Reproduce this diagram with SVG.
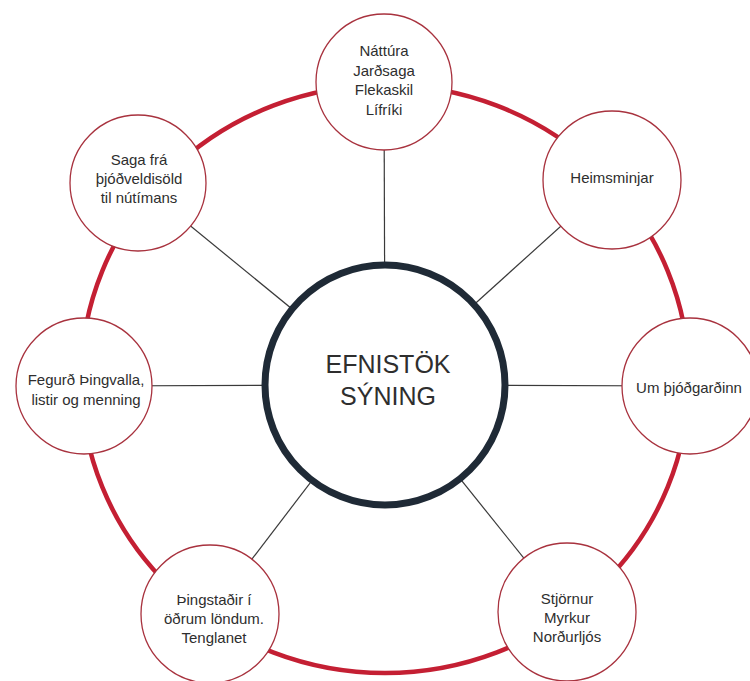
<svg xmlns="http://www.w3.org/2000/svg" width="750" height="681" viewBox="0 0 750 681">
<style>
.ring{fill:none;stroke:#c41f33;stroke-width:4.5}
.spoke{stroke:#3a3a3a;stroke-width:1.2}
.node{fill:#fff;stroke:#a8323e;stroke-width:1.3}
.hub{fill:#fff;stroke:#1f2a36;stroke-width:7}
.t{font-family:"Liberation Sans",Arial,sans-serif;font-size:15px;fill:#2e2e2e;text-anchor:middle}
.h{font-family:"Liberation Sans",Arial,sans-serif;font-size:25px;fill:#2e2e2e;text-anchor:middle}
</style>
<rect width="750" height="681" fill="#fff"/>
<ellipse class="ring" cx="385" cy="379" rx="304" ry="294"/>
<g id="connectors">
<line class="spoke" x1="385" y1="385" x2="384" y2="82"/>
<line class="spoke" x1="385" y1="385" x2="612" y2="180"/>
<line class="spoke" x1="385" y1="385" x2="690" y2="386"/>
<line class="spoke" x1="385" y1="385" x2="567" y2="612"/>
<line class="spoke" x1="385" y1="385" x2="210" y2="614"/>
<line class="spoke" x1="385" y1="385" x2="84" y2="386"/>
<line class="spoke" x1="385" y1="385" x2="138" y2="183"/>
</g>
<g id="hub">
<circle class="hub" cx="385" cy="385" r="120"/>
<text class="h" x="388" y="373">EFNISTÖK</text>
<text class="h" x="388" y="405">SÝNING</text>
</g>
<g id="n-nattura">
<circle class="node" cx="384" cy="82" r="68"/>
<text class="t" x="384" y="56">Náttúra</text>
<text class="t" x="384" y="75.5">Jarðsaga</text>
<text class="t" x="384" y="95">Flekaskil</text>
<text class="t" x="384" y="114.5">Lífríki</text>
</g>
<g id="n-heimsminjar">
<circle class="node" cx="612" cy="180" r="69"/>
<text class="t" x="612" y="183">Heimsminjar</text>
</g>
<g id="n-thjodgardinn">
<circle class="node" cx="690" cy="386" r="68"/>
<text class="t" x="689" y="393">Um þjóðgarðinn</text>
</g>
<g id="n-stjornur">
<circle class="node" cx="567" cy="612" r="69"/>
<text class="t" x="567" y="604">Stjörnur</text>
<text class="t" x="567" y="623">Myrkur</text>
<text class="t" x="567" y="642">Norðurljós</text>
</g>
<g id="n-thingstadir">
<circle class="node" cx="210" cy="614" r="69"/>
<text class="t" x="214" y="605">Þingstaðir í</text>
<text class="t" x="214" y="624">öðrum löndum.</text>
<text class="t" x="214" y="643">Tenglanet</text>
</g>
<g id="n-fegurd">
<circle class="node" cx="84" cy="386" r="68"/>
<text class="t" x="86" y="385">Fegurð Þingvalla,</text>
<text class="t" x="86" y="405">listir og menning</text>
</g>
<g id="n-saga">
<circle class="node" cx="138" cy="183" r="68"/>
<text class="t" x="139" y="165">Saga frá</text>
<text class="t" x="139" y="184">þjóðveldisöld</text>
<text class="t" x="139" y="203">til nútímans</text>
</g>
</svg>
